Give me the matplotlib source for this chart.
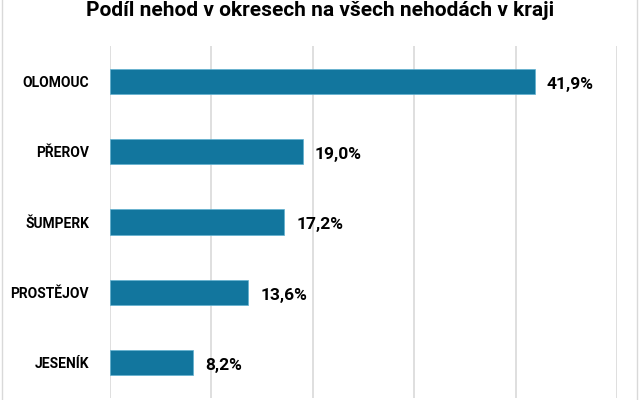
import matplotlib
matplotlib.use('Agg')
import matplotlib.pyplot as plt
from matplotlib.lines import Line2D

okresy = ['OLOMOUC', 'PŘEROV', 'ŠUMPERK', 'PROSTĚJOV', 'JESENÍK']
podil = [41.9, 19.0, 17.2, 13.6, 8.2]

plt.rcParams['font.family'] = ['Roboto', 'DejaVu Sans']

fig = plt.figure(figsize=(6.4, 4.0), dpi=100)
ax = fig.add_axes([110/640, 2/400, 507/640, 352/400])

y = list(range(len(okresy)))
ax.barh(y, podil, height=0.36, color='#12769E', edgecolor='#5fb0d0', linewidth=0.5, zorder=3)
ax.set_ylim(len(okresy) - 0.5, -0.5)
ax.set_xlim(0, 50)
ax.set_xticks([0, 10, 20, 30, 40, 50])
ax.set_xticklabels([])
ax.tick_params(axis='x', length=0)
ax.tick_params(axis='y', length=0, pad=15)
ax.set_yticks(y)
ax.set_yticklabels(okresy, fontsize=10, fontweight='bold')
ax.grid(axis='x', color='#d9d9d9', linewidth=1.2, zorder=0)
for s in ax.spines.values():
    s.set_visible(False)

for yi, v in zip(y, podil):
    ax.text(v + 1.2, yi + 0.04, f'{v:.1f}%'.replace('.', ','), va='center', ha='left',
            fontsize=12.5, fontweight='bold')

fig.text(0.5, 1 - 1/400, 'Podíl nehod v okresech na všech nehodách v kraji',
         ha='center', va='top', fontsize=15, fontweight='bold')

for xf in (1.5/640, 637/640):
    fig.add_artist(Line2D([xf, xf], [0, 1], color='#d9d9d9', linewidth=1))

fig.savefig('out.png', dpi=100)
